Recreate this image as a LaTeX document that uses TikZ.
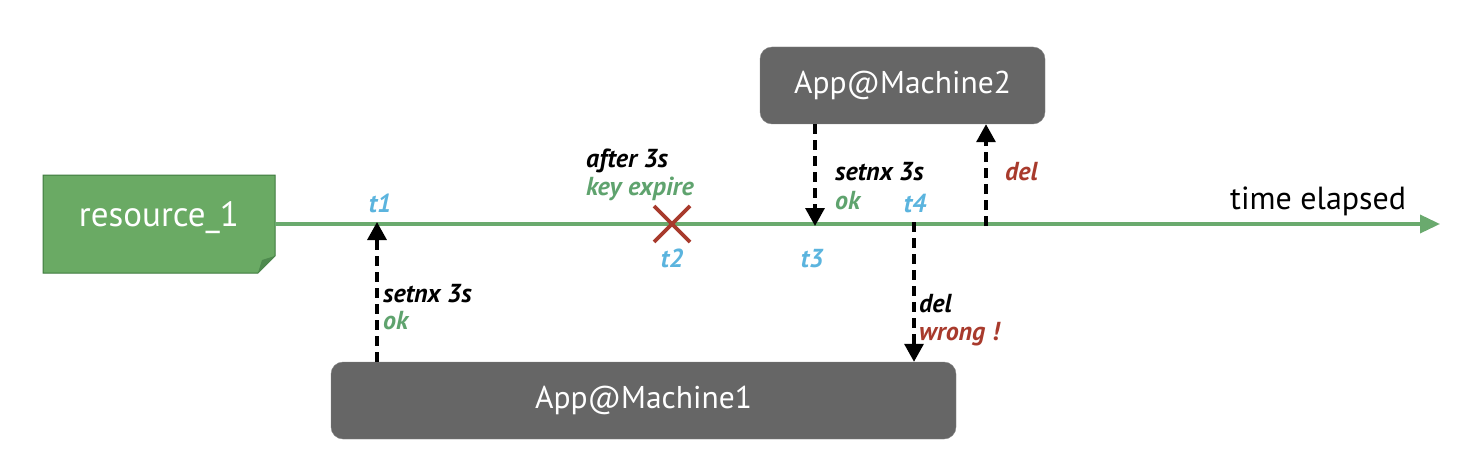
\documentclass[tikz,border=0pt]{standalone}
\usepackage{fontspec}
\setmainfont{PT Sans}
\usetikzlibrary{arrows.meta,calc}
\definecolor{resgreen}{HTML}{6AAA64}
\definecolor{resborder}{HTML}{3E7A3E}
\definecolor{folddark}{HTML}{4E8A4E}
\definecolor{linegreen}{HTML}{6AAA6E}
\definecolor{tblue}{HTML}{5BB4DE}
\definecolor{tred}{HTML}{A83A2C}
\definecolor{tgreen}{HTML}{5FA36E}
\definecolor{boxgray}{HTML}{666666}
\tikzset{
  machine/.style={rounded corners=12pt, fill=boxgray, draw=boxgray!80!white, text=white, font=\fontsize{31.5}{33}\selectfont, inner sep=0pt},
  msg/.style={line width=3.3pt, dash pattern=on 10pt off 6pt, -{Triangle[width=19pt,length=18pt]}},
  lbl/.style={font=\fontsize{26}{28}\selectfont\bfseries\itshape, anchor=base west, inner sep=0pt},
  tlbl/.style={font=\fontsize{26}{28}\selectfont\bfseries\itshape, text=tblue, anchor=base, inner sep=0pt},
}
\begin{document}
\begin{tikzpicture}[x=1pt,y=-1pt]
\useasboundingbox (0,0) rectangle (1466,468);
% resource box with folded corner
\draw[fill=resgreen, draw=resborder, line width=1pt] (43,175) -- (275,175) -- (275,256) -- (258,273) -- (43,273) -- cycle;
\fill[folddark] (275,256) -- (258,273) -- (262,260) -- cycle;
\node[text=white, font=\fontsize{35}{37}\selectfont, inner sep=0pt] (res) at (159,218) {resource\_1};
% timeline
\coordinate (tlstart) at (275,224);
\coordinate (tlend) at (1440,224);
\draw[linegreen, line width=3.6pt, -{Triangle[width=18pt,length=20pt]}] (tlstart) -- (tlend);
\node[font=\fontsize{32}{34}\selectfont, anchor=base west, inner sep=0pt] (te) at (1230,209) {time elapsed};
% machines
\node[machine, minimum width=625pt, minimum height=77pt] (m1) at (643.5,400.5) {App@Machine1};
\node[machine, minimum width=285pt, minimum height=77pt] (m2) at (902.5,85.5) {App@Machine2};
% timeline points
\coordinate (p1) at (377,224);
\coordinate (p3) at (815,224);
\coordinate (p4) at (914,224);
\coordinate (p5) at (986,224);
% X mark
\coordinate (x2) at (672,224);
\draw[tred, line width=3.8pt] ($(x2)+(-18,-18)$) -- ($(x2)+(18,18)$);
\draw[tred, line width=3.8pt] ($(x2)+(18,-18)$) -- ($(x2)+(-18,18)$);
% arrows
\draw[msg] (m1.north -| p1) -- ([yshift=2pt]p1);
\draw[msg] (m2.south -| p3) -- ([yshift=-2pt]p3);
\draw[msg] ([yshift=-2pt]p5) -- (m2.south -| p5);
\draw[msg] ([yshift=2pt]p4) -- (m1.north -| p4);
% labels
\node[tlbl] (lt1) at (380,212) {t1};
\node[tlbl] (lt2) at (672,267) {t2};
\node[tlbl] (lt3) at (812,267) {t3};
\node[tlbl] (lt4) at (915,212) {t4};
\node[lbl] (s1) at (383,302) {setnx 3s};
\node[lbl, text=tgreen] (o1) at (383,329) {ok};
\node[lbl] (a3) at (586,167) {after 3s};
\node[lbl, text=tgreen] (ke) at (586,195) {key expire};
\node[lbl] (s2) at (835,180) {setnx 3s};
\node[lbl, text=tgreen] (o2) at (835,209) {ok};
\node[lbl, text=tred] (d2) at (1005,180) {del};
\node[lbl] (d1) at (919,312) {del};
\node[lbl, text=tred] (w1) at (919,340) {wrong !};
\end{tikzpicture}
\end{document}
